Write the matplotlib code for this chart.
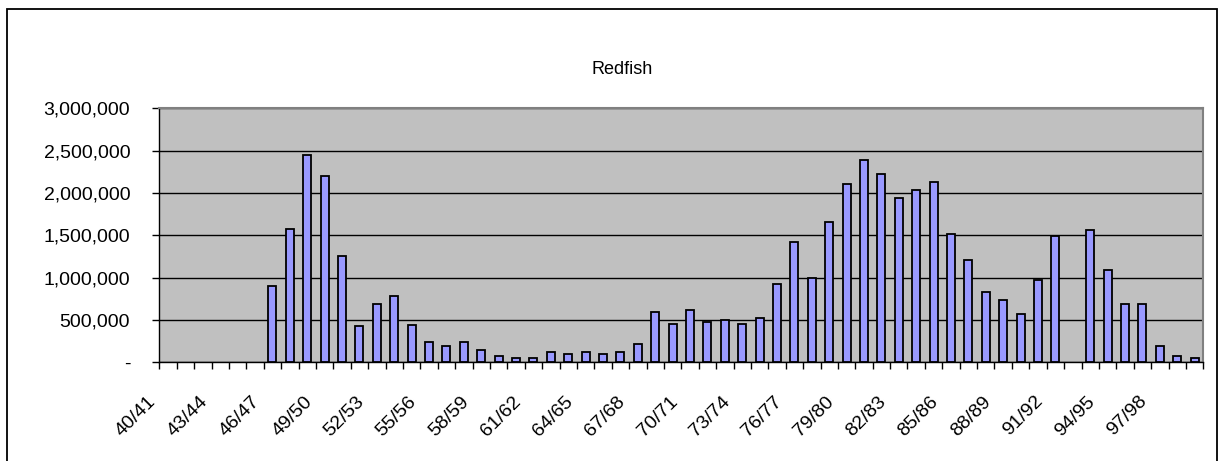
#!/usr/bin/env python3
"""Redfish catch by season, Excel-style bar chart."""
import matplotlib

matplotlib.use("Agg")
import matplotlib.pyplot as plt  # noqa: E402
import matplotlib.transforms as mtransforms  # noqa: E402
import numpy as np  # noqa: E402
from matplotlib.patches import Rectangle  # noqa: E402
from matplotlib.ticker import FuncFormatter  # noqa: E402

SEASONS = [
    "40/41", "41/42", "42/43", "43/44", "44/45", "45/46", "46/47", "47/48",
    "48/49", "49/50", "50/51", "51/52", "52/53", "53/54", "54/55", "55/56",
    "56/57", "57/58", "58/59", "59/60", "60/61", "61/62", "62/63", "63/64",
    "64/65", "65/66", "66/67", "67/68", "68/69", "69/70", "70/71", "71/72",
    "72/73", "73/74", "74/75", "75/76", "76/77", "77/78", "78/79", "79/80",
    "80/81", "81/82", "82/83", "83/84", "84/85", "85/86", "86/87", "87/88",
    "88/89", "89/90", "90/91", "91/92", "92/93", "93/94", "94/95", "95/96",
    "96/97", "97/98", "98/99", "99/00",
]
NAN = float("nan")
CATCH = [
    NAN, NAN, NAN, NAN, NAN, NAN, 900000, 1580000,
    2450000, 2200000, 1250000, 425000, 685000, 780000, 445000, 236000,
    193000, 236000, 146000, 71000, 51000, 51000, 118000, 94000,
    118000, 94000, 118000, 216000, 595000, 449000, 614000, 472000,
    500000, 449000, 520000, 925000, 1417000, 992000, 1653000, 2102000,
    2386000, 2220000, 1937000, 2031000, 2126000, 1512000, 1205000, 827000,
    732000, 567000, 968000, 1488000, NAN, 1559000, 1087000, 685000,
    685000, 189000, 71000, 47000,
]
Y_TICKS = [0, 500000, 1000000, 1500000, 2000000, 2500000, 3000000]
LABEL_STEP = 3

W, H = 1221, 461
plt.rcParams["font.family"] = ["Liberation Sans", "DejaVu Sans"]

fig = plt.figure(figsize=(W / 100, H / 100), dpi=100)
# chart area border (bottom runs off the canvas)
fig.patches.append(Rectangle((7 / W, -0.05), 1210 / W, 1.05 - 9 / H,
                             transform=fig.transFigure, fill=False,
                             edgecolor="black", linewidth=1.3))

ax = fig.add_axes([159.3 / W, 1 - 362.3 / H, 1044 / W, 254 / H])
ax.set_facecolor("#C0C0C0")

x = np.arange(len(SEASONS))
ax.bar(x, CATCH, width=0.46, color="#9999FF", edgecolor="black",
       linewidth=1.3, zorder=3)

ax.set_xlim(-0.5, len(SEASONS) - 0.5)
ax.set_ylim(0, 3000000)
ax.set_yticks(Y_TICKS)
ax.yaxis.set_major_formatter(FuncFormatter(lambda v, _: "-" if v == 0 else f"{v:,.0f}"))
ax.grid(axis="y", color="black", linewidth=1.0, zorder=1)
ax.tick_params(axis="y", length=5, width=1, pad=16, labelsize=14)

# ticks sit on category boundaries, labels on every third category
ax.set_xticks(np.arange(-0.5, len(SEASONS)), minor=True)
ax.set_xticks(x[::LABEL_STEP])
ax.set_xticklabels(SEASONS[::LABEL_STEP], rotation=45, ha="right", va="top")
ax.tick_params(axis="x", which="minor", length=5, width=1)
ax.tick_params(axis="x", which="major", length=0, pad=22, labelsize=14)
shift = mtransforms.ScaledTranslation(-9 / 100, 0, fig.dpi_scale_trans)
for lbl in ax.get_xticklabels():
    lbl.set_transform(lbl.get_transform() + shift)

for side in ("top", "right"):
    ax.spines[side].set_color("#808080")
    ax.spines[side].set_linewidth(1.5)
for side in ("left", "bottom"):
    ax.spines[side].set_color("black")
    ax.spines[side].set_linewidth(1.0)

fig.text(622 / W, 1 - 69 / H, "Redfish", ha="center", va="center", fontsize=13)

fig.savefig("out.png", dpi=100)
